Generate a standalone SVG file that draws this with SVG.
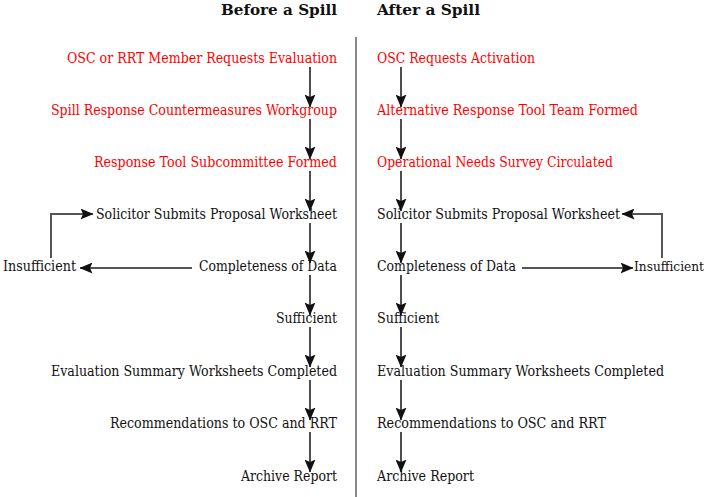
<svg xmlns="http://www.w3.org/2000/svg" width="712" height="497" viewBox="0 0 712 497">
<defs>
<style>
text{font-family:"DejaVu Serif","Liberation Serif",serif;font-size:14px;fill:#111}
.r{fill:#ff0000}
.t{font-weight:bold;font-size:15px;fill:#111}
.c{stroke:#222;stroke-width:1.6;fill:none}
.g{stroke:#555;stroke-width:2;fill:none}
</style>
<marker id="ah" markerUnits="userSpaceOnUse" markerWidth="13" markerHeight="11" viewBox="0 0 13 11" refX="12.5" refY="5.5" orient="auto">
<path d="M0,0 L13,5.5 L0,11 L2.5,5.5 z" fill="#111"/>
</marker>
</defs>
<rect width="712" height="497" fill="#fff"/>
<line x1="356" y1="37" x2="356" y2="497" stroke="#888" stroke-width="2"/>
<g id="titles">
<text class="t" x="221" y="15" textLength="116" lengthAdjust="spacingAndGlyphs">Before a Spill</text>
<text class="t" x="377" y="15" textLength="103" lengthAdjust="spacingAndGlyphs">After a Spill</text>
</g>
<g id="connectors">
<line class="c" x1="310" y1="67" x2="310" y2="107" marker-end="url(#ah)"/>
<line class="c" x1="310" y1="119" x2="310" y2="159" marker-end="url(#ah)"/>
<line class="c" x1="310" y1="171" x2="310" y2="211" marker-end="url(#ah)"/>
<line class="c" x1="310" y1="223" x2="310" y2="263" marker-end="url(#ah)"/>
<line class="c" x1="310" y1="275" x2="310" y2="315" marker-end="url(#ah)"/>
<line class="c" x1="310" y1="327" x2="310" y2="367" marker-end="url(#ah)"/>
<line class="c" x1="310" y1="380" x2="310" y2="420" marker-end="url(#ah)"/>
<line class="c" x1="310" y1="432" x2="310" y2="472" marker-end="url(#ah)"/>
<line class="c" x1="401" y1="67" x2="401" y2="107" marker-end="url(#ah)"/>
<line class="c" x1="401" y1="119" x2="401" y2="159" marker-end="url(#ah)"/>
<line class="c" x1="401" y1="171" x2="401" y2="211" marker-end="url(#ah)"/>
<line class="c" x1="401" y1="223" x2="401" y2="263" marker-end="url(#ah)"/>
<line class="c" x1="401" y1="275" x2="401" y2="315" marker-end="url(#ah)"/>
<line class="c" x1="401" y1="327" x2="401" y2="367" marker-end="url(#ah)"/>
<line class="c" x1="401" y1="380" x2="401" y2="420" marker-end="url(#ah)"/>
<line class="c" x1="401" y1="432" x2="401" y2="472" marker-end="url(#ah)"/>
<line class="g" x1="192" y1="268" x2="80" y2="268" marker-end="url(#ah)"/>
<polyline class="g" points="51,258 51,214 93,214" marker-end="url(#ah)"/>
<line class="g" x1="522" y1="268" x2="633" y2="268" marker-end="url(#ah)"/>
<polyline class="g" points="662,258 662,214 622,214" marker-end="url(#ah)"/>
</g>
<g id="before">
<g id="b1"><text class="r" x="67" y="63" textLength="270" lengthAdjust="spacingAndGlyphs">OSC or RRT Member Requests Evaluation</text></g>
<g id="b2"><text class="r" x="51" y="115" textLength="286" lengthAdjust="spacingAndGlyphs">Spill Response Countermeasures Workgroup</text></g>
<g id="b3"><text class="r" x="94" y="167" textLength="243" lengthAdjust="spacingAndGlyphs">Response Tool Subcommittee Formed</text></g>
<g id="b4"><text x="96" y="219" textLength="241" lengthAdjust="spacingAndGlyphs">Solicitor Submits Proposal Worksheet</text></g>
<g id="b5"><text x="199" y="271" textLength="138" lengthAdjust="spacingAndGlyphs">Completeness of Data</text></g>
<g id="b5i"><text x="3" y="271" textLength="73" lengthAdjust="spacingAndGlyphs">Insufficient</text></g>
<g id="b6"><text x="276" y="323" textLength="61" lengthAdjust="spacingAndGlyphs">Sufficient</text></g>
<g id="b7"><text x="51" y="376" textLength="286" lengthAdjust="spacingAndGlyphs">Evaluation Summary Worksheets Completed</text></g>
<g id="b8"><text x="110" y="428" textLength="227" lengthAdjust="spacingAndGlyphs">Recommendations to OSC and RRT</text></g>
<g id="b9"><text x="241" y="481" textLength="96" lengthAdjust="spacingAndGlyphs">Archive Report</text></g>
</g>
<g id="after">
<g id="a1"><text class="r" x="377" y="63" textLength="158" lengthAdjust="spacingAndGlyphs">OSC Requests Activation</text></g>
<g id="a2"><text class="r" x="377" y="115" textLength="261" lengthAdjust="spacingAndGlyphs">Alternative Response Tool Team Formed</text></g>
<g id="a3"><text class="r" x="377" y="167" textLength="236" lengthAdjust="spacingAndGlyphs">Operational Needs Survey Circulated</text></g>
<g id="a4"><text x="377" y="219" textLength="243" lengthAdjust="spacingAndGlyphs">Solicitor Submits Proposal Worksheet</text></g>
<g id="a5"><text x="377" y="271" textLength="139" lengthAdjust="spacingAndGlyphs">Completeness of Data</text></g>
<g id="a5i"><text x="704" y="271" text-anchor="end" style="font-size:13px" textLength="70" lengthAdjust="spacingAndGlyphs">Insufficient</text></g>
<g id="a6"><text x="377" y="323" textLength="62" lengthAdjust="spacingAndGlyphs">Sufficient</text></g>
<g id="a7"><text x="377" y="376" textLength="287" lengthAdjust="spacingAndGlyphs">Evaluation Summary Worksheets Completed</text></g>
<g id="a8"><text x="377" y="428" textLength="229" lengthAdjust="spacingAndGlyphs">Recommendations to OSC and RRT</text></g>
<g id="a9"><text x="377" y="481" textLength="97" lengthAdjust="spacingAndGlyphs">Archive Report</text></g>
</g>
</svg>
